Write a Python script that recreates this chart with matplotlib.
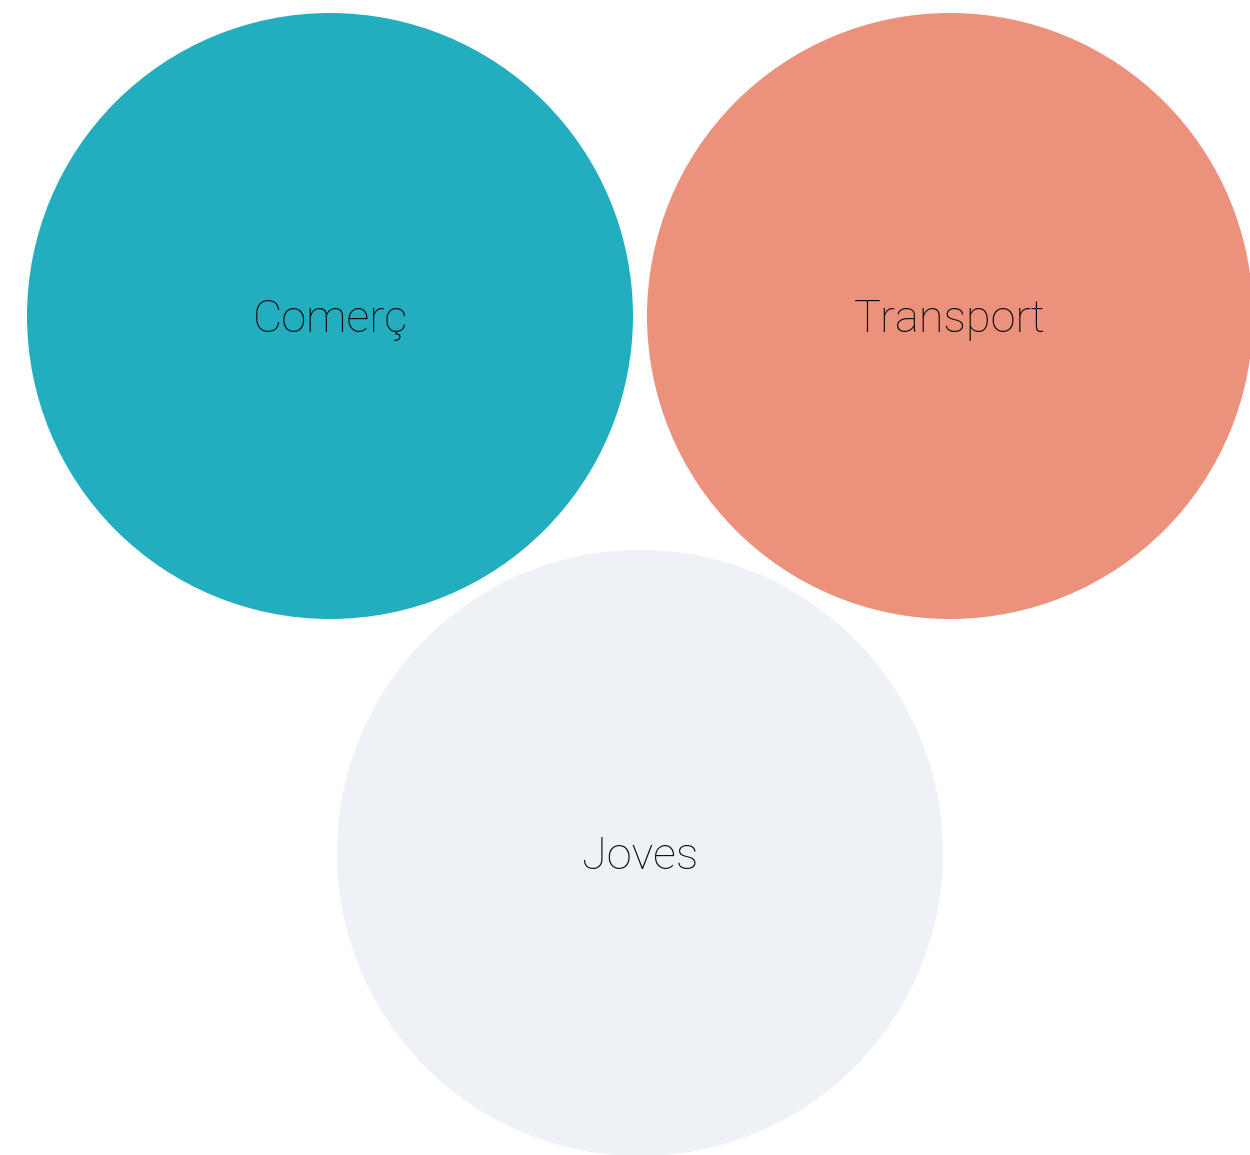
import numpy as np
import matplotlib
matplotlib.use("Agg")
import matplotlib.pyplot as plt
from matplotlib.patches import Circle

# Data
categories = ["Comerç", "Transport", "Joves"]
values = [1, 1, 1]
colors = ["#22AEBF", "#EB917C", "#EEF1F6"]

W, H = 1250, 1155
fig = plt.figure(figsize=(W / 100, H / 100), dpi=100)
ax = fig.add_axes([0, 0, 1, 1])
ax.set_xlim(0, W)
ax.set_ylim(H, 0)
ax.set_aspect("equal")
ax.axis("off")

# Layout: packed bubbles (equal sizes -> triangular arrangement)
max_r = 303.0
gap = 14.0
radii = [max_r * np.sqrt(v / max(values)) for v in values]
d = radii[0] + radii[1] + gap
cx, cy = 640.0, 316.0
centers = [
    (cx - d / 2, cy),
    (cx + d / 2, cy),
    (cx, cy + d * np.sqrt(3) / 2),
]

for (x, y), r, c, lab in zip(centers, radii, colors, categories):
    ax.add_patch(Circle((x, y), r, facecolor=c, edgecolor="none"))
    ax.text(x, y + 16, lab, ha="center", va="baseline", fontsize=32.5,
            family=["Roboto", "DejaVu Sans"], fontweight="light",
            color="#0d0d0d")

fig.savefig("out.png", dpi=100)
